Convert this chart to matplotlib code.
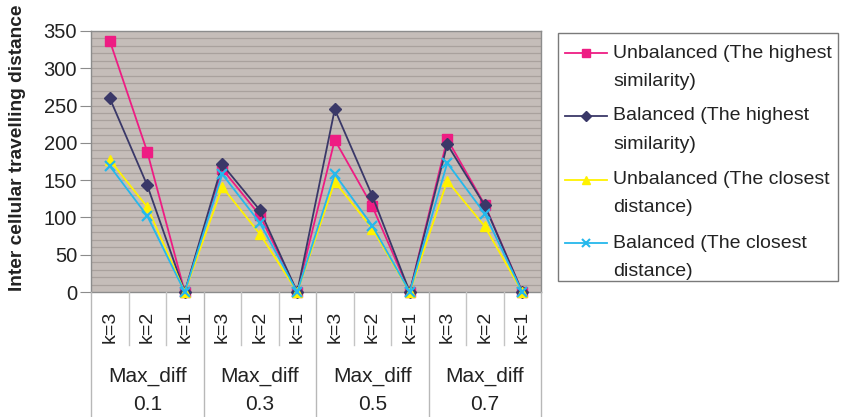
import matplotlib
matplotlib.use("Agg")
import matplotlib.pyplot as plt
from matplotlib.lines import Line2D
import numpy as np

plt.rcParams['font.family'] = ['Liberation Sans', 'DejaVu Sans']

# Data
groups = ["Max_diff\n0.1", "Max_diff\n0.3", "Max_diff\n0.5", "Max_diff\n0.7"]
k_labels = ["k=3", "k=2", "k=1"]
series_names = [
    "Unbalanced (The highest\nsimilarity)",
    "Balanced (The highest\nsimilarity)",
    "Unbalanced (The closest\ndistance)",
    "Balanced (The closest\ndistance)",
]
unbalanced_hs = [337, 188, 0, 165, 103, 0, 204, 115, 0, 205, 117, 0]
balanced_hs = [260, 143, 0, 171, 110, 0, 245, 129, 0, 198, 116, 0]
unbalanced_cd = [177, 114, 0, 141, 78, 0, 148, 85, 0, 149, 88, 0]
balanced_cd = [169, 102, 0, 158, 93, 0, 158, 89, 0, 173, 105, 0]
y_ticks = [0, 50, 100, 150, 200, 250, 300, 350]

series = [unbalanced_hs, balanced_hs, unbalanced_cd, balanced_cd]
colors = ["#EE1C83", "#3A3868", "#FFF200", "#25B8EC"]
markers = ["s", "D", "^", "x"]
msizes = [6.5, 6, 7.5, 7.5]
text_color = "#222222"

W, H = 841, 417
fig = plt.figure(figsize=(W / 100, H / 100), dpi=100)


def fx(px):
    return px / W


def fy(py):
    return 1 - py / H


left, right, top, bottom = 91, 541, 31, 292
ax = fig.add_axes([fx(left), fy(bottom), fx(right - left), (bottom - top) / H])
ax.set_facecolor("#C5BDB9")

n = len(unbalanced_hs)
x = np.arange(n)
ax.set_xlim(-0.5, n - 0.5)
ax.set_ylim(0, 350)

# horizontal grid every 10 units
for yv in range(10, 350, 10):
    ax.axhline(yv, color="#A9A19D", lw=0.9, zorder=1)

for vals, c, m, ms in zip(series, colors, markers, msizes):
    kw = dict(color=c, lw=1.3, marker=m, markersize=ms, zorder=3, clip_on=False)
    if m == "x":
        kw.update(markeredgewidth=1.6)
    else:
        kw.update(markeredgecolor=c)
    ax.plot(x, vals, **kw)

for s in ax.spines.values():
    s.set_color("#8C8C8C")
    s.set_linewidth(1.0)

ax.set_yticks(y_ticks)
ax.set_yticklabels([str(v) for v in y_ticks], fontsize=14.5, color=text_color)
ax.tick_params(axis="y", length=8, width=0.8, color="#8C8C8C", pad=2)
ax.set_xticks([])

fig.text(fx(18), fy(148), "Inter cellular travelling distance", rotation=90,
         ha="center", va="center", fontsize=13.8, fontweight="bold", color=text_color)

# category axis: k labels and separators
short_end = 345
for b in range(n + 1):
    xpix = left + (right - left) * b / n
    y_end = H if b % 3 == 0 else short_end
    fig.add_artist(Line2D([fx(xpix), fx(xpix)], [fy(bottom), fy(y_end)],
                          color="#C4C4C4" if b % 3 else "#B8B8B8", lw=1.0))

for i in range(n):
    xpix = left + (right - left) * (i + 0.5) / n
    fig.text(fx(xpix), fy(327), k_labels[i % 3], rotation=90, ha="center",
             va="center", fontsize=14, color=text_color)

for g, lab in enumerate(groups):
    xpix = left + (right - left) * (3 * g + 1.5) / n
    l1, l2 = lab.split("\n")
    fig.text(fx(xpix), fy(376), l1, ha="center", va="center", fontsize=15,
             color=text_color)
    fig.text(fx(xpix), fy(405), l2, ha="center", va="center", fontsize=15,
             color=text_color)

# legend box
lx0, ly0, lx1, ly1 = 558, 33, 838, 281
fig.add_artist(plt.Rectangle((fx(lx0), fy(ly1)), fx(lx1 - lx0), (ly1 - ly0) / H,
                             fill=False, edgecolor="#7A7A7A", lw=1.0))
entry_y = [53, 116, 180, 243]
for yy, name, c, m, ms in zip(entry_y, series_names, colors, markers, msizes):
    fig.add_artist(Line2D([fx(565), fx(607)], [fy(yy), fy(yy)], color=c, lw=1.3))
    kw = dict(color=c, marker=m, markersize=ms * 0.85, lw=0)
    if m == "x":
        kw.update(markeredgewidth=1.5)
    fig.add_artist(Line2D([fx(586)], [fy(yy)], **kw))
    for j, line in enumerate(name.split("\n")):
        fig.text(fx(613), fy(yy + 28 * j), line, ha="left", va="center",
                 fontsize=14, color=text_color)

fig.savefig("out.png", dpi=100)
